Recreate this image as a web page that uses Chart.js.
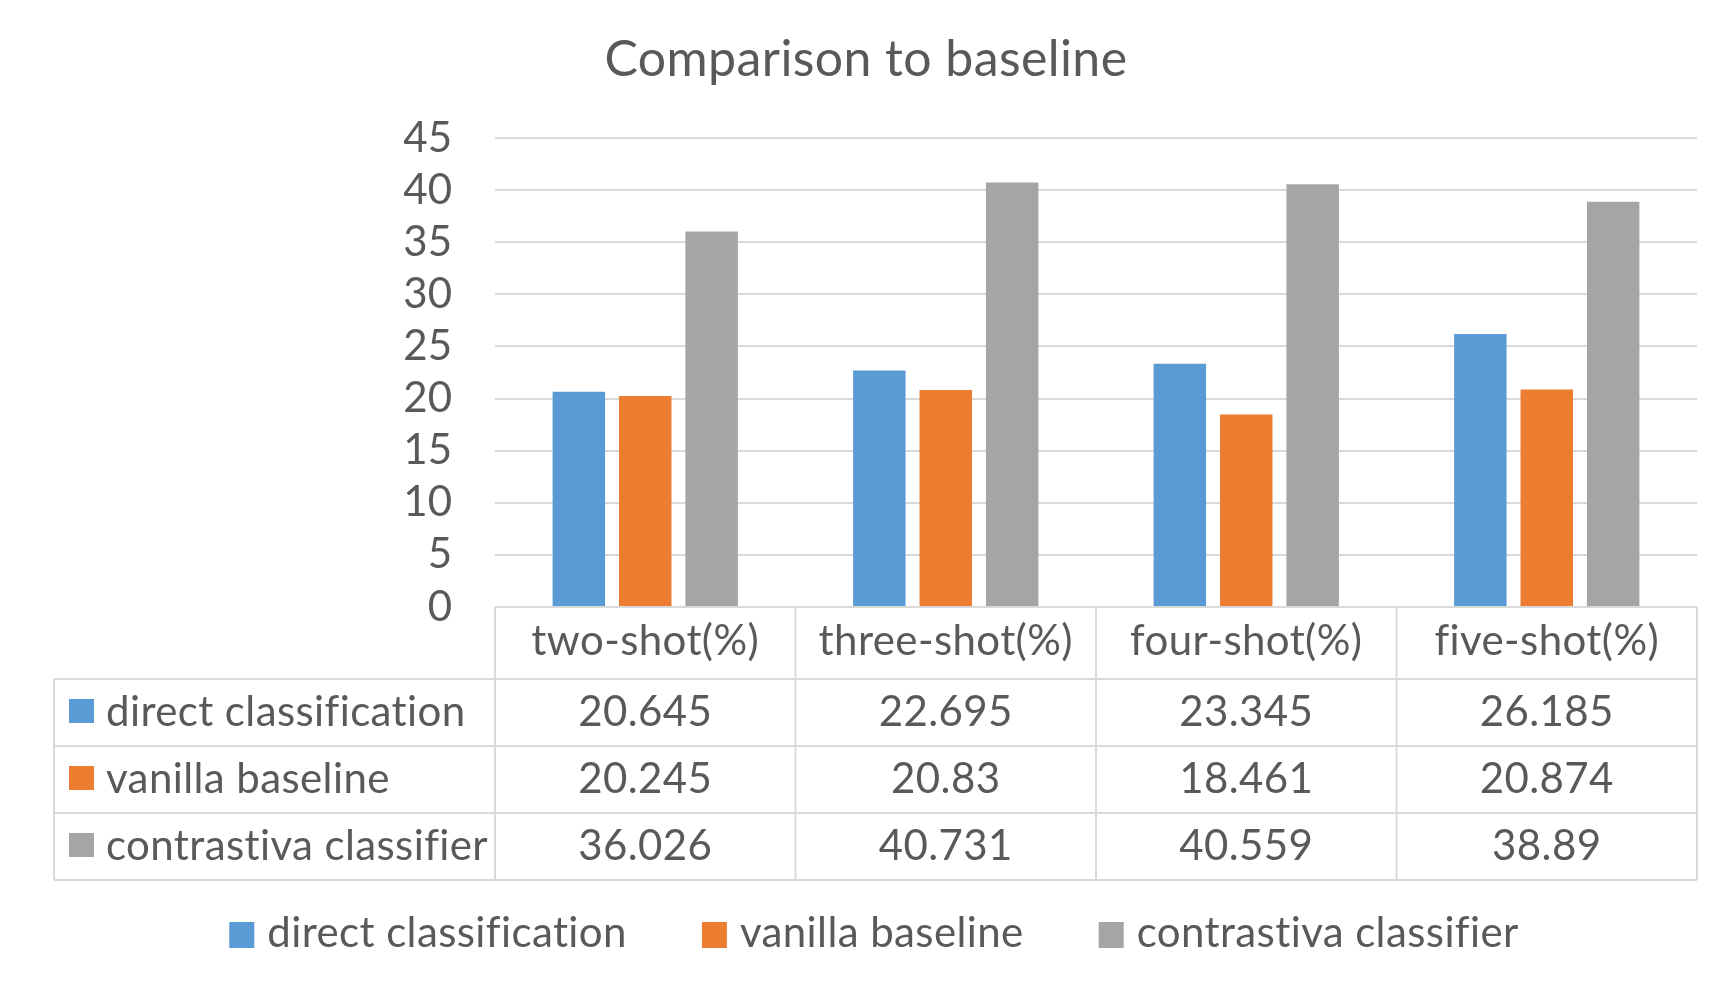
<!DOCTYPE html>
<html><head><meta charset="utf-8">
<script src="https://cdn.jsdelivr.net/npm/chart.js@4.4.1/dist/chart.umd.min.js"></script>
<style>html,body{margin:0;padding:0;background:#fff;overflow:hidden}canvas{display:block}</style>
</head><body>
<canvas id="c" width="1729" height="987"></canvas>
<script>
// ---- data ----
const chartTitle = 'Comparison to baseline';
const categories = ['two-shot(%)', 'three-shot(%)', 'four-shot(%)', 'five-shot(%)'];
const seriesNames = ['direct classification', 'vanilla baseline', 'contrastiva classifier'];
const directClassification = [20.645, 22.695, 23.345, 26.185];
const vanillaBaseline = [20.245, 20.83, 18.461, 20.874];
const contrastivaClassifier = [36.026, 40.731, 40.559, 38.89];
const yTicks = [0, 5, 10, 15, 20, 25, 30, 35, 40, 45];

// ---- style ----
const FONT = 'Lato, "Open Sans", sans-serif';
const TEXT = '#595959';
const GRID = '#D9D9D9';
const COLORS = ['#5B9BD5', '#ED7D31', '#A5A5A5'];
const SERIES = [directClassification, vanillaBaseline, contrastivaClassifier];

const tablePlugin = {
  id: 'tablePlugin',
  afterDraw(chart) {
    const ctx = chart.ctx;
    const x = chart.scales.x;
    const area = chart.chartArea;
    const n = chart.data.labels.length;
    const catW = (area.right - area.left) / n;
    const headerTop = area.bottom, headerBot = headerTop + 72;
    const rowH = 67;
    const tableLeft = 54;
    const rows = chart.data.datasets.length;
    const tableBot = headerBot + rows * rowH;
    ctx.save();
    if ('letterSpacing' in ctx) ctx.letterSpacing = '0.4px';
    // title
    ctx.fillStyle = TEXT;
    ctx.font = '50px ' + FONT;
    ctx.textAlign = 'center';
    ctx.textBaseline = 'alphabetic';
    ctx.fillText(chartTitle, 866, 76);

    // table lines
    ctx.strokeStyle = GRID;
    ctx.lineWidth = 2;
    ctx.beginPath();
    for (let i = 0; i <= n; i++) {
      const px = area.left + i * catW;
      ctx.moveTo(px, headerTop); ctx.lineTo(px, tableBot);
    }
    ctx.moveTo(tableLeft, headerBot); ctx.lineTo(tableLeft, tableBot);
    ctx.moveTo(area.left, headerTop); ctx.lineTo(area.right, headerTop);
    for (let r = 0; r <= rows; r++) {
      const py = headerBot + r * rowH;
      ctx.moveTo(tableLeft, py); ctx.lineTo(area.right, py);
    }
    ctx.stroke();

    // header labels
    ctx.fillStyle = TEXT;
    ctx.font = '42px ' + FONT;
    ctx.textAlign = 'center';
    chart.data.labels.forEach((lab, i) => {
      ctx.fillText(lab, x.getPixelForValue(i), headerTop + 48);
    });
    // rows
    chart.data.datasets.forEach((ds, r) => {
      const top = headerBot + r * rowH;
      const base = top + 47;
      ctx.fillStyle = ds.backgroundColor;
      ctx.fillRect(69, top + 20, 25, 24);
      ctx.fillStyle = TEXT;
      ctx.textAlign = 'left';
      ctx.fillText(ds.label, 106, base);
      ctx.textAlign = 'center';
      ds.data.forEach((v, i) => {
        ctx.fillText(String(v), x.getPixelForValue(i), base);
      });
    });

    // legend
    const sq = 25, gapT = 13, gapI = 75;
    const widths = chart.data.datasets.map(ds => ctx.measureText(ds.label).width);
    const total = widths.reduce((a, w) => a + sq + gapT + w, 0) + gapI * (widths.length - 1);
    let lx = 874 - total / 2;
    const ly = 947;
    chart.data.datasets.forEach((ds, k) => {
      ctx.fillStyle = ds.backgroundColor;
      ctx.fillRect(lx, ly - 25, sq, 26);
      ctx.fillStyle = TEXT;
      ctx.textAlign = 'left';
      ctx.fillText(ds.label, lx + sq + gapT, ly);
      lx += sq + gapT + widths[k] + gapI;
    });
    ctx.restore();
  }
};

new Chart(document.getElementById('c'), {
  type: 'bar',
  data: {
    labels: categories,
    datasets: seriesNames.map((name, k) => ({
      label: name,
      data: SERIES[k],
      backgroundColor: COLORS[k],
      borderWidth: 0,
      categoryPercentage: 0.663,
      barPercentage: 0.79
    }))
  },
  options: {
    responsive: false,
    maintainAspectRatio: false,
    devicePixelRatio: 1,
    animation: false,
    layout: { padding: { top: 138, left: 0, right: 32, bottom: 0 } },
    plugins: { legend: { display: false }, title: { display: false }, tooltip: { enabled: false } },
    scales: {
      x: {
        grid: { display: false },
        border: { display: false },
        ticks: { display: false },
        afterFit(scale) { scale.height = 380; }
      },
      y: {
        min: 0, max: 45,
        afterBuildTicks(scale) { scale.ticks = yTicks.map(v => ({ value: v })); },
        grid: { color: GRID, lineWidth: 2, drawTicks: false },
        border: { display: false },
        ticks: { color: TEXT, font: { family: FONT, size: 42 }, padding: 43, autoSkip: false },
        afterFit(scale) { scale.width = 495; }
      }
    }
  },
  plugins: [tablePlugin]
});
</script>
</body></html>
